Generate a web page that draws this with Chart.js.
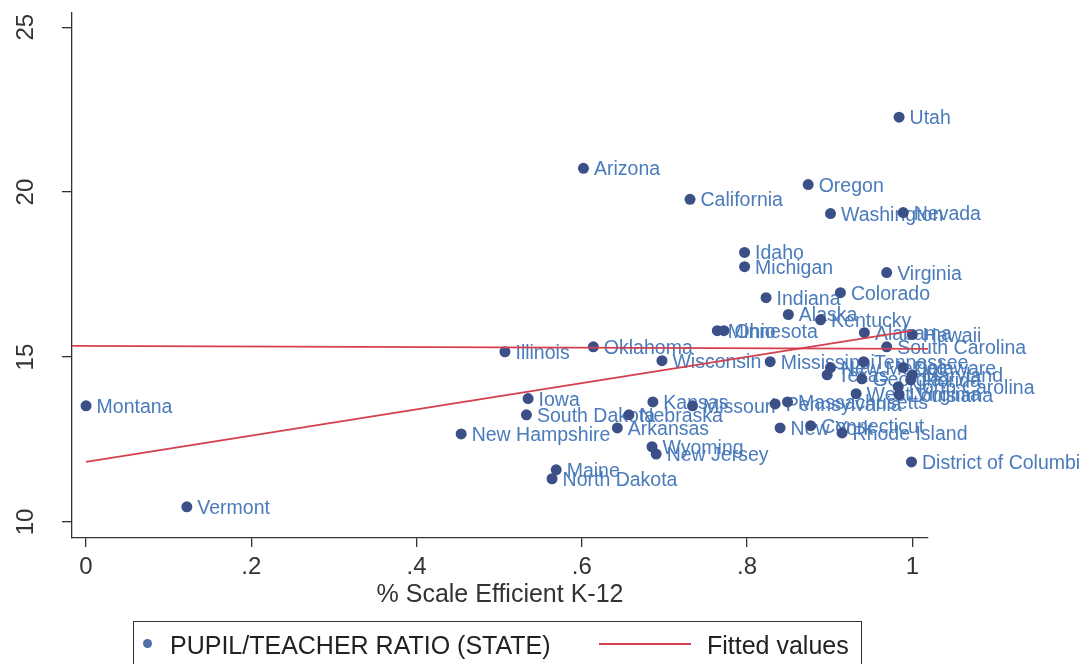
<!DOCTYPE html>
<html>
<head>
<meta charset="utf-8">
<script src="https://cdn.jsdelivr.net/npm/chart.js@4/dist/chart.umd.min.js"></script>
<style>
  html, body { margin: 0; padding: 0; background: #ffffff; }
  #wrap { position: relative; width: 1087px; height: 664px; overflow: hidden; }
  #chart { position: absolute; left: 0; top: 0; }
  .legend { position: absolute; left: 133px; top: 621px; width: 729px; height: 70px;
            border: 1.5px solid #333; box-sizing: border-box; }
  .legend span { position: absolute; font-family: "Liberation Sans", Arial, sans-serif;
                 font-size: 25px; color: #222; white-space: nowrap; line-height: 24px; }
  .dot { position: absolute; width: 9px; height: 9px; border-radius: 50%; background: #4f6ea8; }
  .ln { position: absolute; height: 2px; background: #d4404f; }
</style>
</head>
<body>
<div id="wrap">
  <canvas id="chart" width="1087" height="664"></canvas>
  <div class="legend" id="legend"></div>
</div>
<script>
// state names with % scale efficient (x) and pupil/teacher ratio (y)
const states = ['Alabama','Alaska','Arizona','Arkansas','California','Colorado','Connecticut','Delaware',
  'District of Columbi','Florida','Georgia','Hawaii','Idaho','Illinois','Indiana','Iowa','Kansas','Kentucky',
  'Louisiana','Maine','Maryland','Massachusetts','Michigan','Minnesota','Mississippi','Missouri','Montana',
  'Nebraska','Nevada','New Hampshire','New Jersey','New Mexico','New York','North Carolina','North Dakota',
  'Ohio','Oklahoma','Oregon','Pennsylvania','Rhode Island','South Carolina','South Dakota','Tennessee',
  'Texas','Utah','Vermont','Virginia','Washington','West Virginia','Wisconsin','Wyoming'];
const scaleEff = [0.942,0.850,0.602,0.643,0.731,0.913,0.877,0.989,
  0.999,0.998,0.939,1.000,0.797,0.507,0.823,0.535,0.686,0.889,
  0.984,0.569,1.000,0.849,0.797,0.764,0.828,0.734,0.000,
  0.657,0.989,0.454,0.690,0.901,0.840,0.983,0.564,
  0.772,0.614,0.874,0.834,0.915,0.969,0.533,0.941,
  0.897,0.984,0.122,0.969,0.901,0.932,0.697,0.685];
const ptRatio = [15.74,16.29,20.72,12.85,19.78,16.95,12.92,14.68,
  11.82,14.31,14.34,15.68,18.17,15.16,16.80,13.74,13.64,16.13,
  13.86,11.58,14.46,13.64,17.74,15.80,14.86,13.52,13.52,
  13.25,19.38,12.67,12.06,14.68,12.85,14.10,11.31,
  15.80,15.31,20.23,13.58,12.70,15.31,13.25,14.86,
  14.46,22.27,10.46,17.56,19.35,13.89,14.89,12.28];

// fitted lines
const fitX = [0, 1];
const fitY = [11.82, 15.80];
const flatX = [-0.017, 1.019];
const flatY = [15.34, 15.25];

const xTicks = [0, 0.2, 0.4, 0.6, 0.8, 1];
const xTickLabels = ['0', '.2', '.4', '.6', '.8', '1'];
const yTicks = [10, 15, 20, 25];

const FONT = '"Liberation Sans", Arial, sans-serif';
const dotColor = '#3c5088';
const labelColor = '#4a7bba';
const fitColor = '#d4404f';

const stateLabels = {
  id: 'stateLabels',
  beforeDatasetsDraw(chart) {
    const ctx = chart.ctx;
    const meta = chart.getDatasetMeta(2);
    ctx.save();
    ctx.font = '19.5px ' + FONT;
    ctx.fillStyle = labelColor;
    ctx.textAlign = 'left';
    ctx.textBaseline = 'alphabetic';
    meta.data.forEach((el, i) => {
      ctx.fillText(states[i], el.x + 10.5, el.y + 7);
    });
    ctx.restore();
  }
};

const yLabels = {
  id: 'yLabels',
  afterDraw(chart) {
    const ctx = chart.ctx;
    const sc = chart.scales.y;
    ctx.save();
    ctx.font = '24px ' + FONT;
    ctx.fillStyle = '#333';
    ctx.textAlign = 'center';
    ctx.textBaseline = 'alphabetic';
    sc.ticks.forEach(t => {
      const y = sc.getPixelForValue(t.value);
      ctx.save();
      ctx.translate(33, y);
      ctx.rotate(-Math.PI / 2);
      ctx.fillText(String(t.value), 0, 0);
      ctx.restore();
    });
    ctx.restore();
  }
};

new Chart(document.getElementById('chart'), {
  type: 'scatter',
  data: {
    datasets: [
      {
        label: 'Fitted values',
        data: fitX.map((x, i) => ({ x: x, y: fitY[i] })),
        showLine: true,
        borderColor: fitColor,
        borderWidth: 1.8,
        pointRadius: 0,
        fill: false
      },
      {
        label: 'Fitted values',
        data: flatX.map((x, i) => ({ x: x, y: flatY[i] })),
        showLine: true,
        borderColor: fitColor,
        borderWidth: 1.8,
        pointRadius: 0,
        fill: false
      },
      {
        label: 'PUPIL/TEACHER RATIO (STATE)',
        data: scaleEff.map((x, i) => ({ x: x, y: ptRatio[i] })),
        backgroundColor: dotColor,
        borderWidth: 0,
        pointRadius: 5.5
      }
    ]
  },
  options: {
    responsive: false,
    animation: false,
    layout: { padding: { top: 13, right: 159, bottom: 0, left: 0 } },
    plugins: {
      legend: { display: false },
      tooltip: { enabled: false }
    },
    scales: {
      x: {
        type: 'linear',
        min: -0.017,
        max: 1.019,
        afterBuildTicks: sc => { sc.ticks = xTicks.map(v => ({ value: v })); },
        afterFit: sc => { sc.height = 126; },
        border: { display: true, color: '#333', width: 1.3 },
        grid: { drawOnChartArea: false, drawTicks: true, tickLength: 9, color: '#333', lineWidth: 1.3 },
        ticks: {
          padding: 6,
          color: '#333',
          font: { family: FONT, size: 24 },
          maxRotation: 0,
          callback: (v, i) => xTickLabels[i]
        },
        title: {
          display: true,
          text: '% Scale Efficient K-12',
          color: '#333',
          font: { family: FONT, size: 25 },
          padding: { top: 0, bottom: 53.5 }
        }
      },
      y: {
        type: 'linear',
        min: 9.514,
        max: 25.43,
        afterBuildTicks: sc => { sc.ticks = yTicks.map(v => ({ value: v })); },
        afterFit: sc => { sc.width = 72; },
        border: { display: true, color: '#333', width: 1.3 },
        grid: { drawOnChartArea: false, drawTicks: true, tickLength: 10, color: '#333', lineWidth: 1.3 },
        ticks: { display: false }
      }
    }
  },
  plugins: [stateLabels, yLabels]
});

// legend box
const legend = document.getElementById('legend');
legend.innerHTML =
  '<div class="dot" style="left:9px;top:16.5px"></div>' +
  '<span style="left:36px;top:10.5px">PUPIL/TEACHER RATIO (STATE)</span>' +
  '<div class="ln" style="left:465px;top:21px;width:92px"></div>' +
  '<span style="left:573px;top:10.5px">Fitted values</span>';
</script>
</body>
</html>
